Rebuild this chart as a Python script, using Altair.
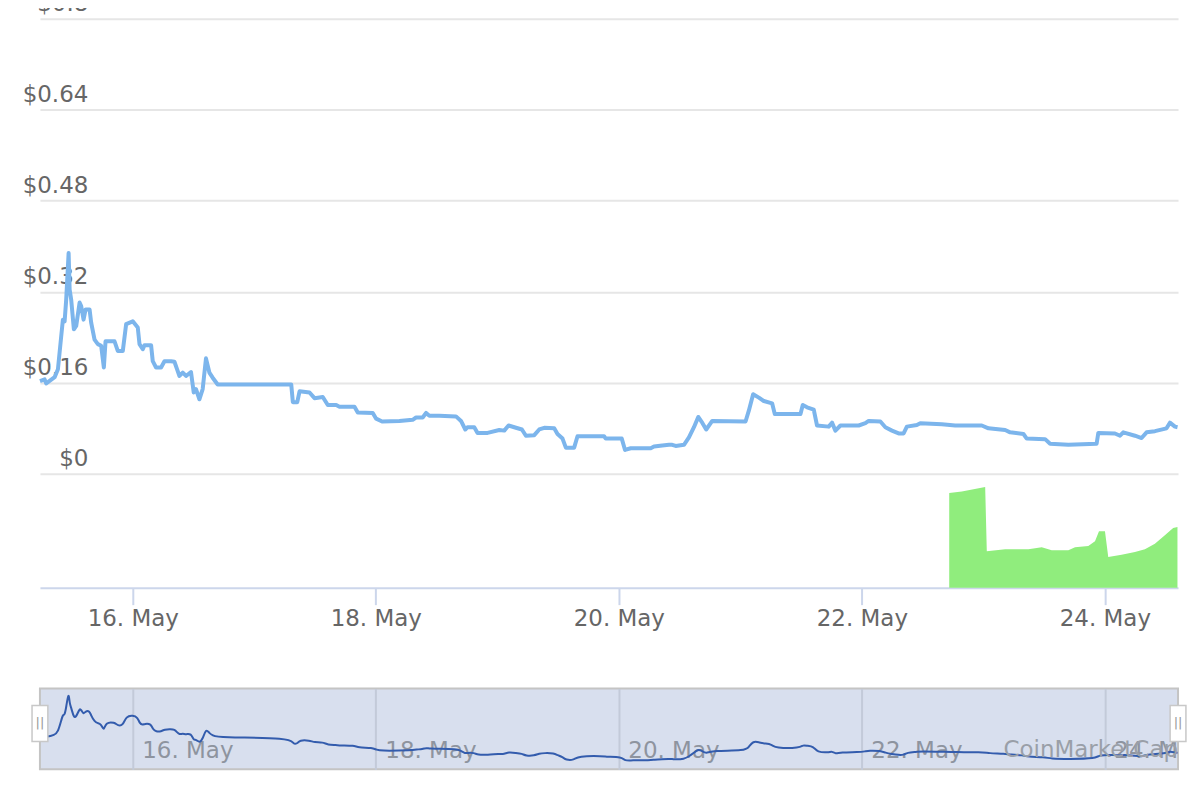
import altair as alt
import pandas as pd

FONT = "DejaVu Sans"

# ---- price readings (hours since 15 May 00:00, USD) in sections ----
h1 = [5.67, 6.59, 6.91, 8.57, 9.22, 9.87, 10.2, 10.54, 10.85, 11.33, 11.53, 11.84, 12.37, 12.83, 13.5,
      13.81, 14.28, 14.68, 15.47, 15.78, 16.45, 17.1, 17.76, 18.29, 18.62, 20.4, 21.04, 22.03, 22.69, 24.0,
      24.99, 25.33, 25.98, 26.31, 27.62, 27.95, 28.6, 29.59, 30.26, 31.56, 32.23, 32.74, 33.22, 33.87, 34.52,
      35.5, 36.04, 36.49, 37.16, 37.81, 38.46, 39.13, 39.78, 40.77]
p1 = [0.163, 0.166, 0.159, 0.170, 0.184, 0.242, 0.271, 0.268, 0.306, 0.388, 0.324, 0.306, 0.254, 0.260, 0.301,
      0.295, 0.271, 0.289, 0.289, 0.266, 0.236, 0.228, 0.225, 0.187, 0.233, 0.233, 0.216, 0.216, 0.263, 0.268,
      0.257, 0.228, 0.219, 0.226, 0.226, 0.198, 0.187, 0.187, 0.198, 0.198, 0.197, 0.184, 0.172, 0.178, 0.172,
      0.179, 0.143, 0.149, 0.131, 0.149, 0.203, 0.178, 0.169, 0.157]
h2 = [55.3, 55.62, 56.49, 56.94, 58.91, 59.9, 61.53, 62.52, 64.18, 64.83, 67.79, 68.44, 71.4, 72.07, 73.25,
      76.66, 79.28, 79.95, 81.26, 81.93, 82.58, 84.55]
p2 = [0.157, 0.126, 0.126, 0.145, 0.143, 0.133, 0.135, 0.121, 0.121, 0.118, 0.118, 0.108, 0.107, 0.097, 0.092,
      0.093, 0.095, 0.099, 0.099, 0.107, 0.102, 0.102]
h3 = [87.84, 88.83, 89.68, 90.13, 91.45, 92.1, 94.08, 96.39, 97.37, 98.22, 99.68, 100.86, 101.65, 103.3, 104.28,
      105.27, 107.24, 107.89, 108.88, 109.54, 111.18, 111.84, 117.09, 117.42, 120.58, 121.23, 122.35, 126.3,
      126.95, 128.59, 129.91]
p3 = [0.101, 0.093, 0.078, 0.082, 0.082, 0.072, 0.072, 0.077, 0.076, 0.085, 0.081, 0.078, 0.067, 0.068, 0.078,
      0.081, 0.080, 0.070, 0.062, 0.046, 0.046, 0.066, 0.066, 0.062, 0.062, 0.042, 0.045, 0.045,
      0.048, 0.050, 0.051]
h4 = [130.56, 131.23, 132.87, 133.85, 134.84, 135.69, 136.47, 137.26, 138.45, 145.03, 145.68, 146.53, 147.66,
      148.64, 150.28, 150.81, 155.88, 156.33, 157.18, 158.5, 159.15, 161.46, 162.11, 162.78, 163.77, 167.38,
      168.7, 169.35, 171.66, 172.65, 173.95, 175.27]
p4 = [0.051, 0.049, 0.051, 0.064, 0.082, 0.100, 0.090, 0.078, 0.093, 0.092, 0.111, 0.140, 0.134,
      0.128, 0.124, 0.105, 0.105, 0.121, 0.117, 0.113, 0.085, 0.083, 0.090, 0.076, 0.085, 0.085,
      0.089, 0.093, 0.092, 0.082, 0.076, 0.071]
h5 = [176.25, 176.9, 178.87, 179.54, 183.8, 186.44, 191.69, 193.01, 196.31, 197.29, 199.92, 200.57, 204.2,
      205.18, 208.79, 214.37, 214.71, 218.0, 218.99, 219.64, 221.95, 223.25, 224.24, 225.89, 228.18, 228.85,
      229.84, 230.35]
p5 = [0.071, 0.083, 0.086, 0.089, 0.087, 0.085, 0.085, 0.080, 0.077, 0.073, 0.070, 0.062, 0.061,
      0.053, 0.051, 0.053, 0.072, 0.071, 0.067, 0.073, 0.067, 0.063, 0.073, 0.075, 0.080, 0.090,
      0.083, 0.082]

# ---- volume readings (hours since 15 May 00:00, thousand USD) ----
vol_hours = [185.26, 187.75, 192.36, 192.68, 196.31, 200.9, 203.53, 205.5, 208.79, 210.11, 212.73,
             214.05, 214.84, 216.02, 216.67, 219.3, 221.94, 223.91, 225.88, 227.85, 229.49, 230.34]
vol_k = [47.4, 48.2, 50.4, 18.2, 19.2, 19.2, 20.2, 18.7, 18.7, 20.2, 20.9,
         23.2, 28.2, 28.2, 15.4, 16.5, 17.9, 19.2, 22.0, 26.2, 29.9, 30.4]

tick_days = [16, 18, 20, 22, 24]
price_ticks = [0, 0.16, 0.32, 0.48, 0.64, 0.8]

BASE = pd.Timestamp("2019-05-15")
hours = h1 + h2 + h3 + h4 + h5
prices = p1 + p2 + p3 + p4 + p5
price_df = pd.DataFrame({"time": BASE + pd.to_timedelta(hours, unit="h"), "price": prices})
vol_df = pd.DataFrame({"time": BASE + pd.to_timedelta(vol_hours, unit="h"), "volume": vol_k})

x_start = alt.DateTime(year=2019, month=5, date=15, hours=5, minutes=40)
x_end = alt.DateTime(year=2019, month=5, date=24, hours=14, minutes=27)
tick_vals = [alt.DateTime(year=2019, month=5, date=d) for d in tick_days]
handles_df = pd.DataFrame({"time": [BASE + pd.Timedelta(hours=5, minutes=40),
                                    BASE + pd.Timedelta(hours=230, minutes=27)]})

W = 1140

x_main = alt.X(
    "time:T",
    scale=alt.Scale(domain=[x_start, x_end]),
    axis=alt.Axis(values=tick_vals, format="%d. %b", title=None, grid=False,
                  domainColor="#ccd6eb", domainWidth=2, tickColor="#ccd6eb", tickWidth=2,
                  tickSize=17, labelFontSize=23, labelColor="#666666", labelFont=FONT,
                  labelPadding=3),
)

vol_area = alt.Chart(vol_df).mark_area(color="#90ed7d", opacity=1).encode(
    x=x_main,
    y=alt.Y("volume:Q", scale=alt.Scale(domain=[0, 57], range=[570, 456], nice=False), axis=None),
)

price_line = alt.Chart(price_df).mark_line(color="#7cb5ec", strokeWidth=4, strokeJoin="round").encode(
    x=x_main,
    y=alt.Y(
        "price:Q",
        scale=alt.Scale(domain=[0, 0.8], range=[456, 0], nice=False),
        axis=alt.Axis(values=price_ticks, labelExpr="'$' + format(datum.value, '.2~f')",
                      title=None, grid=True, gridColor="#e6e6e6", gridWidth=2, domain=False,
                      ticks=False, tickSize=0, labelFontSize=23, labelColor="#666666",
                      labelFont=FONT, labelAlign="right", labelBaseline="middle",
                      labelPadding=-48, labelOffset=-15),
    ),
)

main = alt.layer(vol_area, price_line).resolve_scale(y="independent").properties(width=W, height=570)

# the last navigator label is clipped by the navigator's right edge, as in the original
nav_x = alt.X(
    "time:T",
    scale=alt.Scale(domain=[x_start, x_end]),
    axis=alt.Axis(values=tick_vals, format="%d. %b", title=None, domain=False, ticks=False,
                  tickSize=0, grid=True, gridColor="#c3cad9", gridWidth=2, labelAlign="left",
                  labelBaseline="middle", labelPadding=-19, labelOffset=9, labelFontSize=23,
                  labelColor="#8e949f", labelFont=FONT,
                  labelExpr="datum.index == 1 ? substring(datum.label, 0, 5) : datum.label"),
)

nav_line = alt.Chart(price_df).mark_line(color="#335cad", strokeWidth=2, interpolate="basis").encode(
    x=nav_x,
    y=alt.Y("price:Q", scale=alt.Scale(domain=[0, 0.40], nice=False), axis=None),
)

handles = alt.Chart(handles_df).mark_point(
    shape="M-0.44,-1L0.44,-1L0.44,1L-0.44,1Z", size=1296, filled=True, fill="white",
    stroke="#c8c8c8", strokeWidth=1.5, opacity=1,
).encode(x=nav_x, y=alt.value(35))

handle_marks = alt.Chart(handles_df).mark_text(
    text="||", fontSize=13, color="#999999", font=FONT
).encode(x=nav_x, y=alt.value(35))

credit = alt.Chart(pd.DataFrame({"t": ["CoinMarketCap"]})).mark_text(
    align="right", baseline="middle", fontSize=23, color="#9a9fa8", font=FONT
).encode(text="t:N", x=alt.value(W), y=alt.value(62))

nav = alt.layer(nav_line, handles, handle_marks, credit).properties(
    width=W, height=81,
    view=alt.ViewBackground(fill="#d8dfee", stroke="#c4c4c4", strokeWidth=2),
)

chart = alt.vconcat(main, nav, spacing=101, bounds="flush").properties(
    padding={"left": 14, "top": -16, "right": 2, "bottom": 5}
).configure(font=FONT).configure_view(strokeWidth=0)

chart.save("out.html", embed_options={"renderer": "svg", "actions": False})
